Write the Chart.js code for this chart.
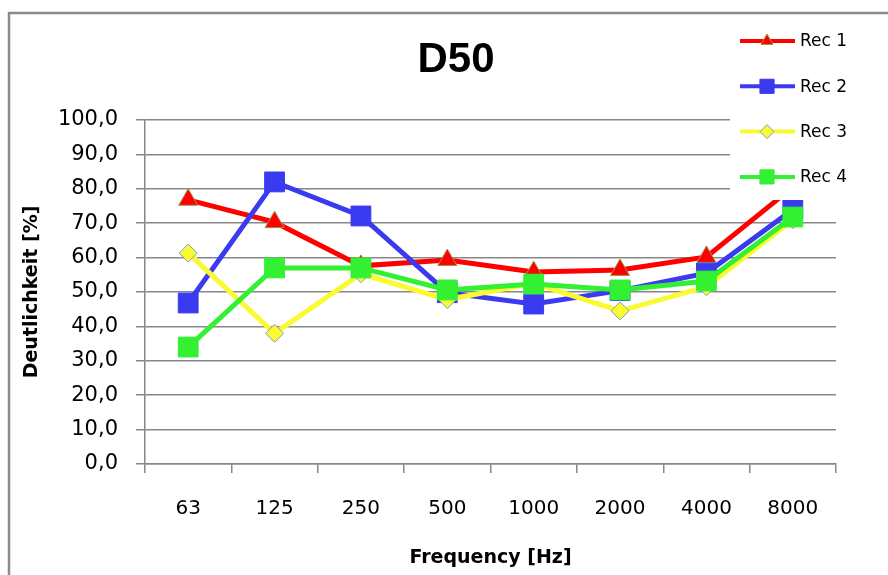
<!DOCTYPE html>
<html>
<head>
<meta charset="utf-8">
<script src="https://cdn.jsdelivr.net/npm/chart.js"></script>
<style>
  html, body { margin: 0; padding: 0; background: #fff; }
  #wrap { width: 888px; height: 575px; position: relative; }
</style>
</head>
<body>
<div id="wrap"><canvas id="d50"></canvas></div>
<script>
"use strict";

/* ─── DATA ─── */
const frequencies = ["63", "125", "250", "500", "1000", "2000", "4000", "8000"];
const seriesNames = ["Rec 1", "Rec 2", "Rec 3", "Rec 4"];
const rec1 = [76.8, 70.3, 57.6, 59.3, 55.8, 56.4, 60.2, 80.5];
const rec2 = [46.8, 82.0, 72.1, 49.8, 46.5, 50.4, 55.5, 74.0];
const rec3 = [61.3, 38.0, 55.3, 47.8, 52.5, 44.5, 51.5, 71.0];
const rec4 = [34.0, 57.0, 57.0, 50.6, 52.3, 50.6, 53.2, 71.8];
const yTicks = [0, 10, 20, 30, 40, 50, 60, 70, 80, 90, 100];

/* ─── COLORS ─── */
const C = {
  red: "#FF0000", blue: "#3A3AF0", yellow: "#FAFA32", green: "#33F033",
  grid: "#878787", frame: "#8A8A8A", text: "#000000",
  triEdge: "#9A9A4A", diaEdge: "#7F9FC8",
};
const FONT = "'DejaVu Sans', sans-serif";

function series(label, data, color, style, radius, edge, order) {
  return {
    label, data, order,
    borderColor: color, backgroundColor: color,
    borderWidth: 5, tension: 0,
    pointStyle: style, pointRadius: radius, pointHoverRadius: radius,
    pointBackgroundColor: color, pointBorderColor: edge, pointBorderWidth: 1,
  };
}

/* ─── FRAME, TITLE, LEGEND (legend sits on top of the plot like the original) ─── */
const decor = {
  id: "decor",
  beforeDraw(chart) {
    const ctx = chart.ctx;
    ctx.save();
    ctx.fillStyle = "#fff";
    ctx.fillRect(0, 0, chart.width, chart.height);
    ctx.strokeStyle = C.frame;
    ctx.lineWidth = 2.5;
    ctx.strokeRect(9, 13, 900, 600);
    ctx.fillStyle = C.text;
    ctx.font = "bold 42px 'Liberation Sans', sans-serif";
    ctx.textAlign = "center";
    ctx.textBaseline = "middle";
    ctx.fillText("D50", 456, 60);
    ctx.restore();
  },
  afterDraw(chart) {
    const ctx = chart.ctx;
    ctx.save();
    ctx.fillStyle = "#fff";
    ctx.fillRect(730, 20, 156, 180);
    const sizes = [7, 10, 7, 10];
    chart.data.datasets.forEach((ds, i) => {
      const y = 41 + i * 45.3;
      ctx.strokeStyle = ds.borderColor;
      ctx.lineWidth = 4;
      ctx.beginPath();
      ctx.moveTo(740, y);
      ctx.lineTo(795, y);
      ctx.stroke();
      ctx.fillStyle = ds.pointBackgroundColor;
      ctx.strokeStyle = ds.pointBorderColor;
      ctx.lineWidth = 1;
      Chart.helpers.drawPoint(ctx, { pointStyle: ds.pointStyle, radius: sizes[i], borderWidth: 1, rotation: 0 }, 767, y);
      ctx.fillStyle = C.text;
      ctx.font = "17px " + FONT;
      ctx.textAlign = "left";
      ctx.textBaseline = "middle";
      ctx.fillText(ds.label, 800, y + 1);
    });
    ctx.restore();
  }
};

new Chart(document.getElementById("d50"), {
  type: "line",
  data: {
    labels: frequencies,
    datasets: [
      series(seriesNames[0], rec1, C.red, "triangle", 11, C.triEdge, 4),
      series(seriesNames[1], rec2, C.blue, "rect", 14, C.blue, 3),
      series(seriesNames[2], rec3, C.yellow, "rectRot", 9, C.diaEdge, 2),
      series(seriesNames[3], rec4, C.green, "rect", 14, C.green, 1),
    ]
  },
  plugins: [decor],
  options: {
    responsive: true, maintainAspectRatio: false, animation: false,
    layout: { padding: { left: 10, right: 52, top: 120, bottom: 0 } },
    plugins: { legend: { display: false }, title: { display: false }, tooltip: { enabled: false } },
    scales: {
      x: {
        offset: true,
        grid: { offset: true, drawOnChartArea: false, drawTicks: true, tickLength: 9, color: C.grid, lineWidth: 1.5 },
        border: { display: true, color: C.grid, width: 1.5 },
        ticks: { color: C.text, font: { family: FONT, size: 20 }, padding: 24, maxRotation: 0, autoSkip: false },
        title: { display: true, text: "Frequency [Hz]", color: C.text, font: { family: FONT, size: 19, weight: "bold" }, padding: { top: 0, bottom: 6 } },
        afterFit(scale) { scale.height = 111; },
      },
      y: {
        min: 0, max: 100,
        afterBuildTicks(scale) { scale.ticks = yTicks.map(v => ({ value: v })); },
        grid: { color: C.grid, lineWidth: 1.5, tickLength: 9 },
        border: { display: true, color: C.grid, width: 1.5 },
        ticks: { color: C.text, font: { family: FONT, size: 21 }, padding: 18, callback: v => v.toFixed(1).replace(".", ",") },
        title: { display: true, text: "Deutlichkeit [%]", color: C.text, font: { family: FONT, size: 19, weight: "bold" }, padding: { top: 11, bottom: 0 } },
        afterFit(scale) { scale.width = 135; },
      },
    },
  }
});
</script>
</body>
</html>
